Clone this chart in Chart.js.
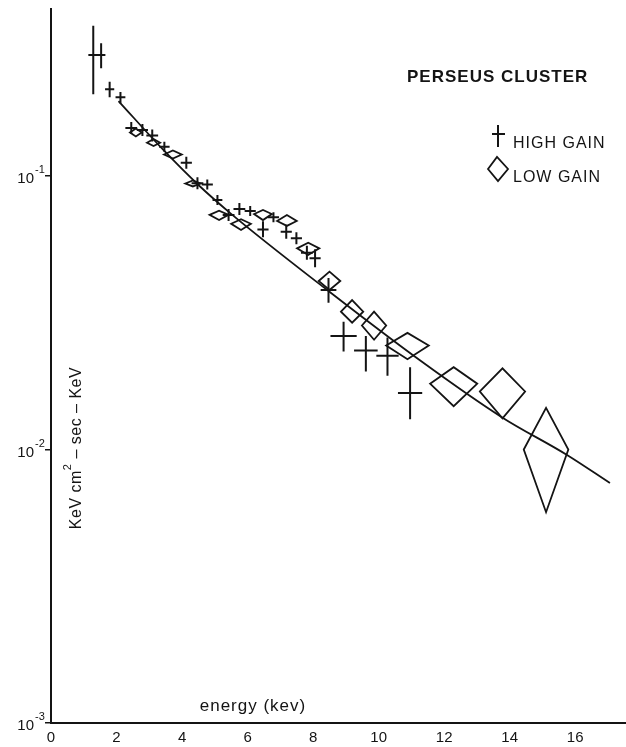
<!DOCTYPE html>
<html>
<head>
<meta charset="utf-8">
<script src="https://cdn.jsdelivr.net/npm/chart.js@4.4.1/dist/chart.umd.min.js"></script>
<style>
  html, body { margin: 0; padding: 0; background: #fff; }
  #wrap { width: 626px; height: 747px; }
</style>
</head>
<body>
<div id="wrap"><canvas id="spectrum-chart"></canvas></div>
<script>
// axis ticks
const energyTicks = [0, 2, 4, 6, 8, 10, 12, 14, 16];
const fluxTicks = [0.001, 0.01, 0.1];
const fluxExponents = ['-3', '-2', '-1'];

// HIGH GAIN (crosses): energy, half width, flux, upper / lower flux
const highEnergy = [1.29, 1.53, 1.79, 2.12, 2.45, 2.79, 3.09, 3.46, 4.13, 4.47, 4.77, 5.08, 5.42, 5.75, 6.08, 6.47, 6.79, 7.18, 7.49, 7.81, 8.06, 8.47, 8.93, 9.61, 10.27, 10.96];
const highDE = [0.15, 0.13, 0.14, 0.15, 0.18, 0.17, 0.18, 0.16, 0.17, 0.18, 0.17, 0.15, 0.18, 0.18, 0.17, 0.17, 0.17, 0.17, 0.17, 0.18, 0.17, 0.24, 0.40, 0.36, 0.34, 0.37];
const highFlux = [0.277, 0.277, 0.2075, 0.194, 0.1498, 0.1473, 0.1406, 0.128, 0.1118, 0.094, 0.0931, 0.0817, 0.072, 0.0757, 0.0745, 0.0638, 0.0706, 0.0626, 0.0592, 0.0524, 0.05, 0.0383, 0.026, 0.023, 0.022, 0.0161];
const highFluxHi = [0.354, 0.306, 0.221, 0.203, 0.1575, 0.155, 0.1479, 0.1335, 0.1177, 0.0989, 0.0971, 0.0852, 0.0758, 0.0797, 0.0777, 0.0683, 0.0737, 0.0664, 0.0623, 0.0556, 0.054, 0.0424, 0.0293, 0.026, 0.0257, 0.02];
const highFluxLo = [0.199, 0.248, 0.194, 0.184, 0.1424, 0.14, 0.1337, 0.1227, 0.1063, 0.0894, 0.0893, 0.0783, 0.0685, 0.072, 0.0714, 0.0597, 0.0677, 0.059, 0.0563, 0.0494, 0.0464, 0.0344, 0.0228, 0.0193, 0.0186, 0.0129];

// LOW GAIN (diamonds)
const lowEnergy = [2.59, 3.13, 3.72, 4.33, 5.13, 5.80, 6.47, 7.20, 7.85, 8.50, 9.19, 9.86, 10.88, 12.29, 13.78, 15.11];
const lowDE = [0.18, 0.20, 0.27, 0.23, 0.29, 0.30, 0.27, 0.30, 0.34, 0.33, 0.34, 0.37, 0.65, 0.72, 0.69, 0.68];
const lowFlux = [0.1443, 0.1324, 0.1199, 0.0939, 0.0721, 0.0669, 0.0726, 0.0685, 0.0544, 0.0413, 0.0319, 0.0284, 0.024, 0.0174, 0.0163, 0.01];
const lowFluxHi = [0.1492, 0.1366, 0.124, 0.0963, 0.0747, 0.0695, 0.0751, 0.072, 0.057, 0.0447, 0.0352, 0.0319, 0.0267, 0.02, 0.0198, 0.0142];
const lowFluxLo = [0.1395, 0.1287, 0.1159, 0.0916, 0.069, 0.0635, 0.069, 0.0657, 0.0514, 0.0383, 0.0291, 0.0252, 0.0214, 0.0144, 0.013, 0.0059];

// fitted spectrum
const fitEnergy = [2.06, 3.43, 4.50, 5.47, 8.43, 11.27, 13.77, 15.75, 17.06];
const fitFlux = [0.188, 0.1245, 0.0927, 0.0732, 0.0383, 0.02115, 0.0131, 0.00955, 0.00754];

const INK = '#141414';

// crosses and diamonds, drawn through the chart scales
const errorMarks = {
    id: 'errorMarks',
    afterDatasetsDraw(chart) {
        const ctx = chart.ctx;
        const xs = chart.scales.x, ys = chart.scales.y;
        ctx.save();
        ctx.strokeStyle = INK;
        ctx.lineWidth = 2;
        highEnergy.forEach((e, i) => {
            const x = xs.getPixelForValue(e);
            const y = ys.getPixelForValue(highFlux[i]);
            ctx.beginPath();
            ctx.moveTo(xs.getPixelForValue(e - highDE[i]), y);
            ctx.lineTo(xs.getPixelForValue(e + highDE[i]), y);
            ctx.moveTo(x, ys.getPixelForValue(highFluxHi[i]));
            ctx.lineTo(x, ys.getPixelForValue(highFluxLo[i]));
            ctx.stroke();
        });
        ctx.lineWidth = 1.8;
        ctx.lineJoin = 'miter';
        lowEnergy.forEach((e, i) => {
            const x = xs.getPixelForValue(e);
            const y = ys.getPixelForValue(lowFlux[i]);
            ctx.beginPath();
            ctx.moveTo(xs.getPixelForValue(e - lowDE[i]), y);
            ctx.lineTo(x, ys.getPixelForValue(lowFluxHi[i]));
            ctx.lineTo(xs.getPixelForValue(e + lowDE[i]), y);
            ctx.lineTo(x, ys.getPixelForValue(lowFluxLo[i]));
            ctx.closePath();
            ctx.stroke();
        });
        ctx.restore();
    }
};

// labels and notes that sit inside the frame
const annotations = {
    id: 'annotations',
    afterDraw(chart) {
        const ctx = chart.ctx;
        const ys = chart.scales.y;
        ctx.save();
        ctx.fillStyle = INK;
        ctx.strokeStyle = INK;

        // y tick labels 10^n
        fluxTicks.forEach((v, i) => {
            const py = ys.getPixelForValue(v);
            ctx.textBaseline = 'middle';
            ctx.textAlign = 'right';
            ctx.font = '15px "Liberation Sans"';
            ctx.fillText('10', 34, py + 3);
            ctx.textAlign = 'left';
            ctx.font = '11px "Liberation Sans"';
            ctx.fillText(fluxExponents[i], 35, py - 6);
        });

        // x title, inside the frame
        ctx.textAlign = 'center';
        ctx.textBaseline = 'middle';
        ctx.font = '17px "Liberation Sans"';
        ctx.letterSpacing = '1px';
        ctx.fillText('energy (kev)', 253, 706);

        // y title, rotated
        ctx.save();
        ctx.translate(77, 448);
        ctx.rotate(-Math.PI / 2);
        ctx.letterSpacing = '0.5px';
        const partA = 'KeV cm', partB = ' \u2013 sec \u2013 KeV';
        ctx.font = '16px "Liberation Sans"';
        const wA = ctx.measureText(partA).width;
        const wB = ctx.measureText(partB).width;
        ctx.font = '11px "Liberation Sans"';
        const wS = ctx.measureText('2').width;
        let x0 = -(wA + wS + wB) / 2;
        ctx.textAlign = 'left';
        ctx.textBaseline = 'middle';
        ctx.font = '16px "Liberation Sans"';
        ctx.fillText(partA, x0, 0);
        ctx.font = '11px "Liberation Sans"';
        ctx.fillText('2', x0 + wA, -9);
        ctx.font = '16px "Liberation Sans"';
        ctx.fillText(partB, x0 + wA + wS, 0);
        ctx.restore();

        // title and key
        ctx.letterSpacing = '1px';
        ctx.textAlign = 'left';
        ctx.font = 'bold 17px "Liberation Sans"';
        ctx.fillText('PERSEUS CLUSTER', 407, 77);
        ctx.font = '16px "Liberation Sans"';
        ctx.fillText('HIGH GAIN', 513, 144);
        ctx.fillText('LOW GAIN', 513, 178);

        ctx.lineWidth = 2;
        ctx.beginPath();
        ctx.moveTo(492, 134);
        ctx.lineTo(505, 134);
        ctx.moveTo(498, 125);
        ctx.lineTo(498, 147);
        ctx.stroke();
        ctx.lineWidth = 1.8;
        ctx.beginPath();
        ctx.moveTo(488, 169);
        ctx.lineTo(497, 157);
        ctx.lineTo(508, 169);
        ctx.lineTo(498, 181);
        ctx.closePath();
        ctx.stroke();
        ctx.restore();
    }
};

new Chart(document.querySelector('#spectrum-chart').getContext('2d'), {
    type: 'scatter',
    data: {
        datasets: [
            {
                label: 'HIGH GAIN',
                data: highEnergy.map((e, i) => ({ x: e, y: highFlux[i] })),
                pointRadius: 0
            },
            {
                label: 'LOW GAIN',
                data: lowEnergy.map((e, i) => ({ x: e, y: lowFlux[i] })),
                pointRadius: 0
            },
            {
                label: 'fit',
                data: fitEnergy.map((e, i) => ({ x: e, y: fitFlux[i] })),
                showLine: true,
                borderColor: INK,
                borderWidth: 1.8,
                pointRadius: 0,
                cubicInterpolationMode: 'monotone'
            }
        ]
    },
    options: {
        responsive: true,
        maintainAspectRatio: false,
        animation: false,
        layout: { padding: { top: 9, left: 0, right: 0, bottom: 0 } },
        plugins: {
            legend: { display: false },
            tooltip: { enabled: false }
        },
        scales: {
            x: {
                type: 'linear',
                min: 0,
                max: 17.55,
                afterBuildTicks: s => { s.ticks = energyTicks.map(v => ({ value: v })); },
                afterFit: s => { s.height = 24; },
                grid: { display: false, drawTicks: false },
                border: { display: true, color: INK, width: 2 },
                ticks: {
                    color: INK,
                    padding: 6,
                    maxRotation: 0,
                    font: { family: 'Liberation Sans', size: 15 }
                }
            },
            y: {
                type: 'logarithmic',
                min: 0.001,
                max: 0.408,
                afterBuildTicks: s => { s.ticks = fluxTicks.map(v => ({ value: v })); },
                afterFit: s => { s.width = 51; },
                grid: { display: true, drawOnChartArea: false, drawTicks: true, tickLength: 6, color: INK, lineWidth: 1.5 },
                border: { display: true, color: INK, width: 2 },
                ticks: { display: false }
            }
        }
    },
    plugins: [errorMarks, annotations]
});
</script>
</body>
</html>
